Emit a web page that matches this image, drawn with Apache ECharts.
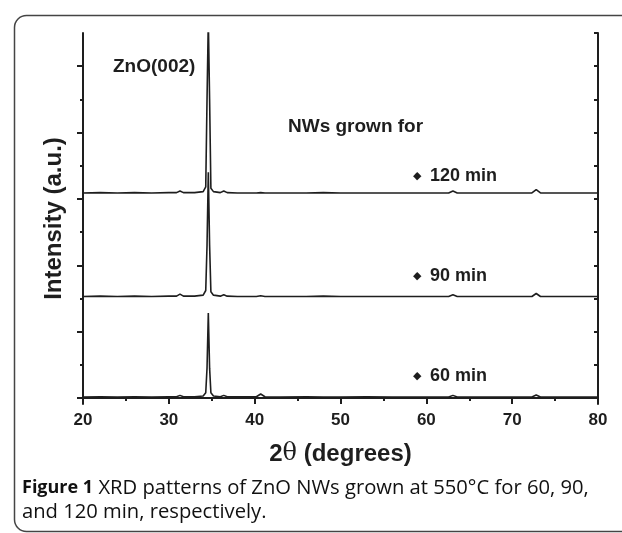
<!DOCTYPE html>
<html>
<head>
<meta charset="utf-8">
<script src="https://cdn.jsdelivr.net/npm/echarts@6/dist/echarts.min.js"></script>
<style>
  html, body { margin: 0; padding: 0; background: #fff; }
  #chart { width: 622px; height: 533px; }
</style>
</head>
<body>
<div id="chart"></div>
<script>
// 2theta positions (degrees), shared by the three patterns
var twoTheta = [20, 22, 24, 26, 28, 30, 30.9, 31.3, 31.7, 33, 34.0, 34.3, 34.45, 34.6, 34.75, 34.9, 35.2,
  36.0, 36.4, 36.8, 38, 40.2, 40.7, 41.2, 43, 46, 48, 50, 53, 56, 59, 62.6, 63.1, 63.6, 66, 69,
  72.3, 72.8, 73.3, 75, 77, 80];

// intensities (a.u., stacked offsets as in the figure)
var int60 = [0.015, 0.02, 0.015, 0.02, 0.015, 0.02, 0.02, 0.04, 0.02, 0.02, 0.03, 0.08, 0.45, 1.28, 0.45, 0.08, 0.03,
  0.02, 0.04, 0.02, 0.02, 0.02, 0.06, 0.02, 0.015, 0.02, 0.015, 0.015, 0.02, 0.015, 0.015, 0.015, 0.04, 0.015, 0.015, 0.015,
  0.015, 0.045, 0.015, 0.015, 0.015, 0.015];
var int90 = [1.53, 1.535, 1.53, 1.535, 1.53, 1.535, 1.535, 1.565, 1.535, 1.535, 1.55, 1.62, 2.3, 3.40, 2.3, 1.6, 1.55,
  1.535, 1.555, 1.535, 1.53, 1.53, 1.54, 1.53, 1.53, 1.53, 1.535, 1.53, 1.53, 1.53, 1.53, 1.53, 1.555, 1.53, 1.53, 1.53,
  1.53, 1.575, 1.53, 1.53, 1.53, 1.53];
var int120 = [3.09, 3.095, 3.09, 3.095, 3.09, 3.095, 3.095, 3.12, 3.095, 3.095, 3.11, 3.18, 4.5, 5.7, 4.5, 3.16, 3.11,
  3.095, 3.12, 3.095, 3.09, 3.09, 3.095, 3.09, 3.09, 3.09, 3.095, 3.09, 3.09, 3.09, 3.09, 3.09, 3.12, 3.09, 3.09, 3.09,
  3.09, 3.14, 3.09, 3.09, 3.09, 3.09];

var yMajorTicks = [0, 1, 2, 3, 4, 5];
var yMinorTicks = [0.5, 1.5, 2.5, 3.5, 4.5];
var yAllTicks = [0.5, 1, 1.5, 2, 2.5, 3, 3.5, 4, 4.5, 5, 5.5];

function pairs(xs, ys) {
    return xs.map(function (x, i) { return [x, ys[i]]; });
}

var chart = echarts.init(document.getElementById('chart'), null, { renderer: 'canvas' });

var ink = '#1e1e1e';
var boldFont = '"Liberation Sans", Arial, sans-serif';

// small diamond + label for each pattern
function tag(y, label) {
    return [
        { type: 'text', left: 413, top: y - 6,
          style: { text: '◆', font: '11px "DejaVu Sans"', fill: ink } },
        { type: 'text', left: 430, top: y - 10,
          style: { text: label, font: 'bold 18px ' + boldFont, fill: ink } }
    ];
}

var option = {
    animation: false,
    grid: { left: 83, right: 24, top: 33, bottom: 129 },
    xAxis: [
        {
            type: 'value', position: 'bottom', min: 20, max: 80, interval: 10,
            name: '2{t|θ} (degrees)', nameLocation: 'middle', nameGap: 38,
            nameTextStyle: {
                fontFamily: boldFont, fontWeight: 'bold', fontSize: 24, color: ink,
                rich: { t: { fontFamily: '"DejaVu Serif", serif', fontWeight: 'normal', fontSize: 24, color: ink } }
            },
            axisLine: { lineStyle: { color: ink, width: 2 } },
            axisTick: { inside: false, length: 6, lineStyle: { color: ink, width: 2 } },
            minorTick: { show: true, splitNumber: 2, length: 3, lineStyle: { color: ink, width: 2 } },
            axisLabel: { margin: 8, fontFamily: boldFont, fontWeight: 'bold', fontSize: 17, color: ink },
            splitLine: { show: false }
        },
        {
            type: 'value', position: 'top', min: 20, max: 80, interval: 10,
            axisLine: { lineStyle: { color: ink, width: 2 } },
            axisTick: { inside: true, length: 6, lineStyle: { color: ink, width: 2 } },
            minorTick: { show: true, splitNumber: 2, length: 3, lineStyle: { color: ink, width: 2 } },
            axisLabel: { show: false },
            splitLine: { show: false }
        }
    ],
    yAxis: [
        {
            type: 'value', position: 'left', min: -0.09, max: 5.5,
            name: 'Intensity (a.u.)', nameLocation: 'middle', nameGap: 17, nameRotate: 90,
            nameTextStyle: { fontFamily: boldFont, fontWeight: 'bold', fontSize: 24, color: ink },
            axisLine: { lineStyle: { color: ink, width: 2 } },
            axisTick: { inside: false, length: 6, customValues: yMajorTicks, lineStyle: { color: ink, width: 2 } },
            axisLabel: { show: false },
            splitLine: { show: false }
        },
        {
            type: 'value', position: 'left', min: -0.09, max: 5.5,
            axisLine: { show: false },
            axisTick: { inside: false, length: 3, customValues: yMinorTicks, lineStyle: { color: ink, width: 2 } },
            axisLabel: { show: false },
            splitLine: { show: false }
        },
        {
            type: 'value', position: 'right', min: -0.09, max: 5.5,
            axisLine: { show: true, lineStyle: { color: ink, width: 2 } },
            axisTick: { inside: true, length: 4, customValues: yAllTicks, lineStyle: { color: ink, width: 2 } },
            axisLabel: { show: false },
            splitLine: { show: false }
        }
    ],
    series: [
        { name: '60 min', type: 'line', data: pairs(twoTheta, int60) },
        { name: '90 min', type: 'line', data: pairs(twoTheta, int90) },
        { name: '120 min', type: 'line', data: pairs(twoTheta, int120) }
    ].map(function (s) {
        s.xAxisIndex = 0;
        s.yAxisIndex = 0;
        s.showSymbol = false;
        s.symbol = 'none';
        s.clip = true;
        s.lineStyle = { color: ink, width: 1.6 };
        return s;
    }),
    graphic: [
        // rounded frame around figure + caption
        {
            type: 'rect', left: 12, top: 13, z: -1,
            shape: { width: 640, height: 516, r: 12 },
            style: { fill: 'none', stroke: '#444', lineWidth: 1.5 }
        },
        {
            type: 'text', left: 113, top: 57,
            style: { text: 'ZnO(002)', font: 'bold 19px ' + boldFont, fill: ink }
        },
        {
            type: 'text', left: 288, top: 117,
            style: { text: 'NWs grown for', font: 'bold 19px ' + boldFont, fill: ink }
        }
    ].concat(tag(177, '120 min'), tag(277, '90 min'), tag(377, '60 min'), [
        {
            type: 'text', left: 22, top: 476,
            style: {
                text: '{b|Figure 1} XRD patterns of ZnO NWs grown at 550°C for 60, 90,\nand 120 min, respectively.',
                font: '20.2px "Open Sans", sans-serif', fill: '#111', lineHeight: 24,
                rich: { b: { fontWeight: 'bold', fontSize: 18, fontFamily: '"Open Sans", sans-serif', fill: '#111' } }
            }
        }
    ])
};

chart.setOption(option);
</script>
</body>
</html>
